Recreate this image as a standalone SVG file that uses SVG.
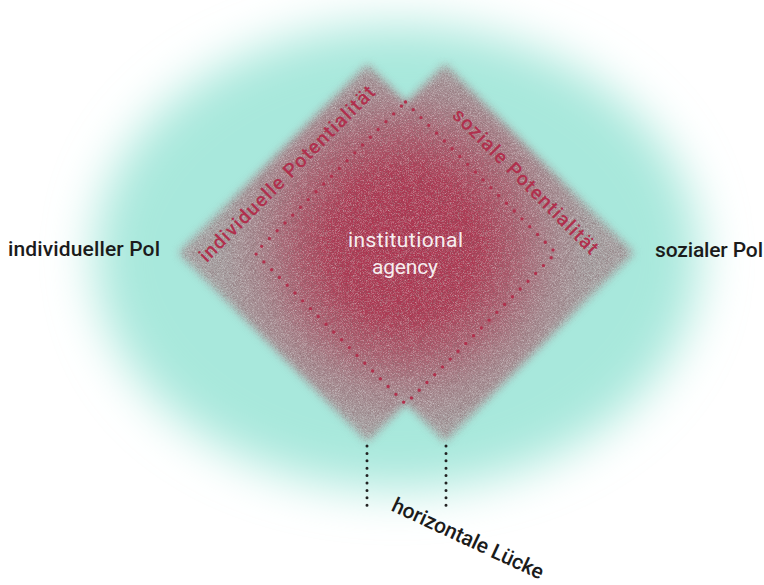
<svg xmlns="http://www.w3.org/2000/svg" width="764" height="585" viewBox="0 0 764 585">
<defs>
<style>
.lbl{font-family:Roboto,"Liberation Sans",sans-serif;font-weight:500;fill:#1b1b1b;font-size:21px}
.pot{font-family:Roboto,"Liberation Sans",sans-serif;font-weight:500;fill:#b0304d;font-size:19.5px;text-anchor:middle}
.ctr{font-family:Roboto,"Liberation Sans",sans-serif;font-weight:400;fill:#f6eef0;font-size:21px;text-anchor:middle}
.reddots{fill:none;stroke:#b0304c;stroke-width:3.4;stroke-linecap:round;stroke-dasharray:0 11}
.blackdots{fill:none;stroke:#222;stroke-width:3;stroke-linecap:round;stroke-dasharray:0 7.4}
</style>
<filter id="soft" x="-30%" y="-30%" width="160%" height="160%"><feGaussianBlur stdDeviation="24"/></filter>
<filter id="grain" x="-5%" y="-5%" width="110%" height="110%" color-interpolation-filters="sRGB">
<feGaussianBlur in="SourceGraphic" stdDeviation="4" result="b"/>
<feTurbulence type="fractalNoise" baseFrequency="1.6" numOctaves="1" seed="7" result="n"/>
<feColorMatrix in="n" type="matrix" values="0 0 0 0 0.9  0 0 0 0 0.9  0 0 0 0 0.9  1.5 0 0 0 -0.68" result="w"/>
<feColorMatrix in="n" type="matrix" values="0 0 0 0 0.5  0 0 0 0 0.38  0 0 0 0 0.4  0 1.5 0 0 -0.68" result="d"/>
<feMerge result="sp"><feMergeNode in="w"/><feMergeNode in="d"/></feMerge>
<feComposite in="sp" in2="b" operator="in" result="spc"/>
<feMerge><feMergeNode in="b"/><feMergeNode in="spc"/></feMerge>
</filter>
<radialGradient id="red" cx="405" cy="245" r="185" gradientUnits="userSpaceOnUse">
<stop offset="0" stop-color="#ae304d"/>
<stop offset="0.4" stop-color="#ae344f" stop-opacity="0.95"/>
<stop offset="0.6" stop-color="#ad3751" stop-opacity="0.65"/>
<stop offset="0.8" stop-color="#ac3a53" stop-opacity="0.25"/>
<stop offset="1" stop-color="#ac3b54" stop-opacity="0"/>
</radialGradient>
</defs>
<rect width="764" height="585" fill="#ffffff"/>
<ellipse id="background" cx="397" cy="257" rx="302" ry="232" fill="#a8e8dc" filter="url(#soft)"/>
<g id="squares" filter="url(#grain)">
<g id="left-square"><polygon points="179,253 367.5,64.5 556,253 367.5,441.5" fill="#a6a0a1"/></g>
<g id="right-square"><polygon points="256.5,253 445,64.5 633.5,253 445,441.5" fill="#a6a0a1"/></g>
<path id="agency-glow" d="M179,253 L367.5,64.5 L406.25,103.25 L445,64.5 L633.5,253 L445,441.5 L406.25,402.75 L367.5,441.5 Z" fill="url(#red)"/>
</g>
<g id="connectors">
<polygon class="reddots" points="405.5,102 556,253 405.5,404 255,253"/>
<line class="blackdots" x1="367" y1="446" x2="367" y2="506"/>
<line class="blackdots" x1="446" y1="446" x2="446" y2="506"/>
</g>
<g id="institutional-agency">
<text class="ctr" x="405.5" y="247" textLength="115">institutional</text>
<text class="ctr" x="405" y="274" textLength="66">agency</text>
</g>
<g id="individuelle-potentialitaet"><text class="pot" transform="translate(291.5,178.5) rotate(-45)" textLength="240">individuelle Potentialität</text></g>
<g id="soziale-potentialitaet"><text class="pot" transform="translate(521,186) rotate(45)" textLength="197">soziale Potentialität</text></g>
<g id="individueller-pol"><text class="lbl" x="8" y="256" textLength="152">individueller Pol</text></g>
<g id="sozialer-pol"><text class="lbl" x="655" y="257" textLength="108">sozialer Pol</text></g>
<g id="horizontale-luecke"><text class="lbl" transform="translate(465,545) rotate(25)" text-anchor="middle" font-size="20" textLength="165">horizontale Lücke</text></g>
</svg>
